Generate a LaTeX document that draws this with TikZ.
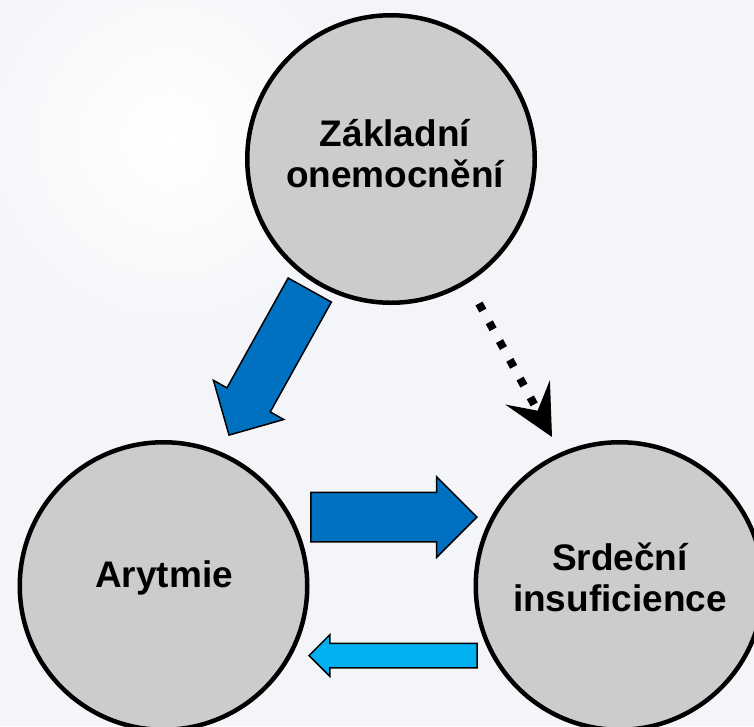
\documentclass[tikz,border=0pt]{standalone}
\usepackage{fontspec}
\setmainfont{Liberation Sans}
\usetikzlibrary{arrows.meta,shapes.arrows}
\definecolor{bgcol}{RGB}{244,245,249}
\definecolor{disccol}{RGB}{204,204,204}
\definecolor{darkblue}{RGB}{0,112,192}
\definecolor{lightblue}{RGB}{0,176,240}
\begin{document}
\begin{tikzpicture}[x=1pt,y=-1pt,
  disc/.style={circle, draw=black, line width=4.5pt, fill=disccol, minimum size=287.5pt, inner sep=0pt},
  lbl/.style={font=\bfseries\fontsize{37}{41}\selectfont, align=center, inner sep=0pt, text=black},
  blockarrow/.style={single arrow, draw=black, line width=1.5pt, inner xsep=0pt, single arrow tip angle=90, anchor=tip},
  bigarrow/.style={blockarrow, fill=darkblue, minimum height=166pt, inner ysep=24pt, single arrow head extend=15.5pt},
  smallarrow/.style={blockarrow, fill=lightblue, minimum height=168pt, inner ysep=11.5pt, single arrow head extend=8.5pt}]
\useasboundingbox (0,0) rectangle (754,726);
\fill[bgcol] (0,0) rectangle (754,726);
\shade[inner color=white, outer color=bgcol] (170,140) circle (210);

\node[disc] (base) at (391,159) {};
\node[disc] (arr) at (163.5,586) {};
\node[disc] (hf) at (619.5,586) {};

\node[lbl] (baseT) at ([xshift=4pt,yshift=5pt]base.center) {Základní\\onemocnění};
\node[lbl] (arrT) at ([xshift=0.5pt,yshift=8pt]arr.center) {Arytmie};
\node[lbl] (hfT) at ([xshift=0.5pt,yshift=9pt]hf.center) {Srdeční\\insuficience};

\node[bigarrow, rotate=240.9] (baseToArr) at (228.5,436) {};
\node[bigarrow] (arrToHf) at (478,517) {};
\node[smallarrow, rotate=180] (hfToArr) at (308,655.5) {};

\coordinate (dotStart) at (479,303.5);
\coordinate (dotEnd) at (552,437);
\draw[line width=8pt, dash pattern=on 8pt off 13.4pt, -{Stealth[length=51pt, width=51pt, inset=21pt, line width=0pt]}] (dotStart) -- (dotEnd);
\end{tikzpicture}
\end{document}
